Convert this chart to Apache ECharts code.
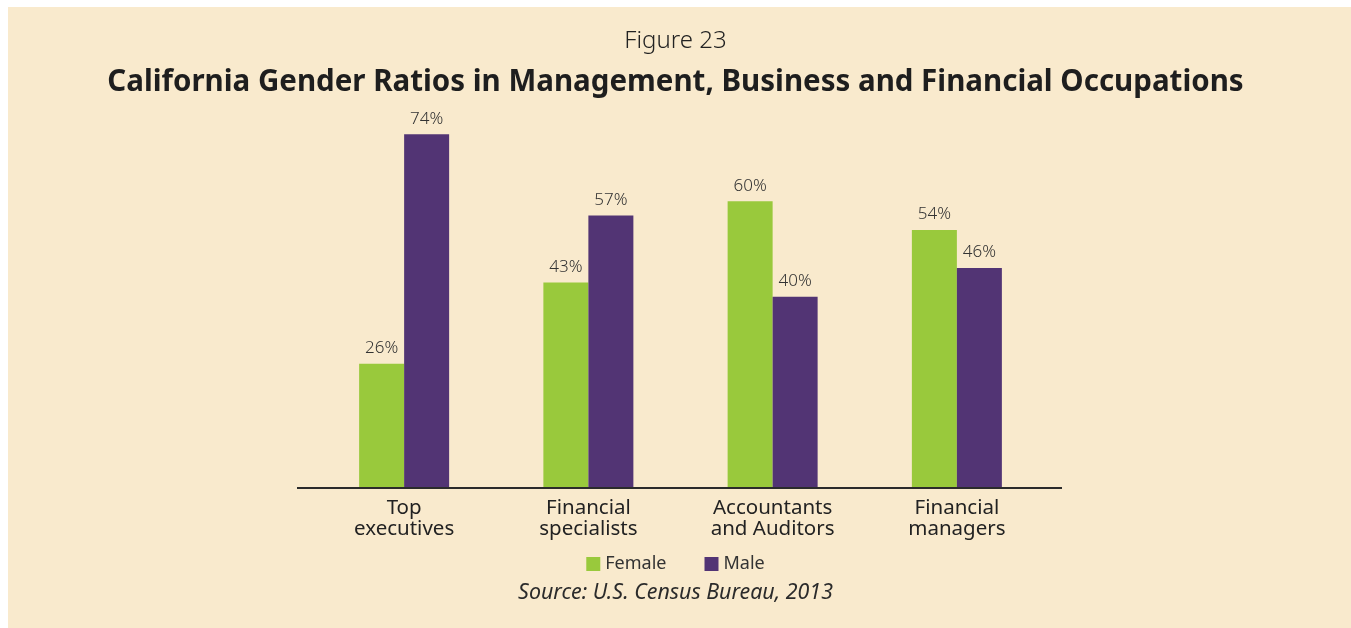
<!DOCTYPE html>
<html>
<head>
  <meta charset="utf-8" />
  <script src="https://cdn.jsdelivr.net/npm/echarts@6/dist/echarts.min.js"></script>
  <style>
    html, body { margin: 0; padding: 0; background: #fff; }
  </style>
</head>
<body>
  <div id="main" style="width: 1351px;height:628px;"></div>
  <script type="text/javascript">
    var categories = ['Top\nexecutives', 'Financial\nspecialists', 'Accountants\nand Auditors', 'Financial\nmanagers']
    var female = [26, 43, 60, 54]
    var male = [74, 57, 40, 46]

    var myChart = echarts.init(document.getElementById('main'));
    var font = '"Noto Sans", Lato, sans-serif'

    var option = {
      backgroundColor: '#fff',
      textStyle: { fontFamily: font },
      graphic: [
        // cream panel behind everything
        { type: 'rect', z: -10, shape: { x: 8, y: 7, width: 1343, height: 621 }, style: { fill: '#F9EACD' } },
        // baseline, a bit wider than the bar grid
        { type: 'line', z: 10, shape: { x1: 297, y1: 488, x2: 1062, y2: 488 }, style: { stroke: '#2b2b2b', lineWidth: 2 } },
        {
          type: 'text', left: 'center', top: 29,
          style: { text: 'Figure 23', font: '300 24px ' + font, fill: '#222' }
        },
        {
          type: 'text', left: 'center', top: 68,
          style: { text: 'California Gender Ratios in Management, Business and Financial Occupations', font: 'bold 29.5px ' + font, fill: '#1e1e1e' }
        },
        {
          type: 'text', left: 'center', top: 582,
          style: { text: 'Source: U.S. Census Bureau, 2013', font: 'italic 21.4px ' + font, fill: '#2b2b2b' }
        }
      ],
      legend: {
        top: 550,
        left: 'center',
        itemWidth: 14,
        itemHeight: 14,
        itemGap: 38,
        icon: 'rect',
        textStyle: { fontSize: 18, color: '#333', fontFamily: font },
        data: ['Female', 'Male']
      },
      grid: {
        left: 312,
        right: 1351 - 1049,
        top: 105.6,
        bottom: 140
      },
      xAxis: {
        type: 'category',
        data: categories,
        axisLine: { show: false },
        axisTick: { show: false },
        axisLabel: { fontSize: 20.5, color: '#222', lineHeight: 21, margin: 10, fontFamily: font }
      },
      yAxis: {
        type: 'value',
        min: 0,
        max: 80,
        show: false,
        splitLine: { show: false }
      },
      series: [
        {
          name: 'Female',
          type: 'bar',
          data: female,
          barWidth: 45,
          barGap: '0%',
          itemStyle: { color: '#99C93C' },
          label: { show: true, position: 'top', formatter: '{c}%', fontSize: 17, fontWeight: 300, color: '#333', distance: 7 }
        },
        {
          name: 'Male',
          type: 'bar',
          data: male,
          barWidth: 45,
          itemStyle: { color: '#523474' },
          label: { show: true, position: 'top', formatter: '{c}%', fontSize: 17, fontWeight: 300, color: '#333', distance: 7 }
        }
      ]
    };

    myChart.setOption(option);
  </script>
</body>
</html>
